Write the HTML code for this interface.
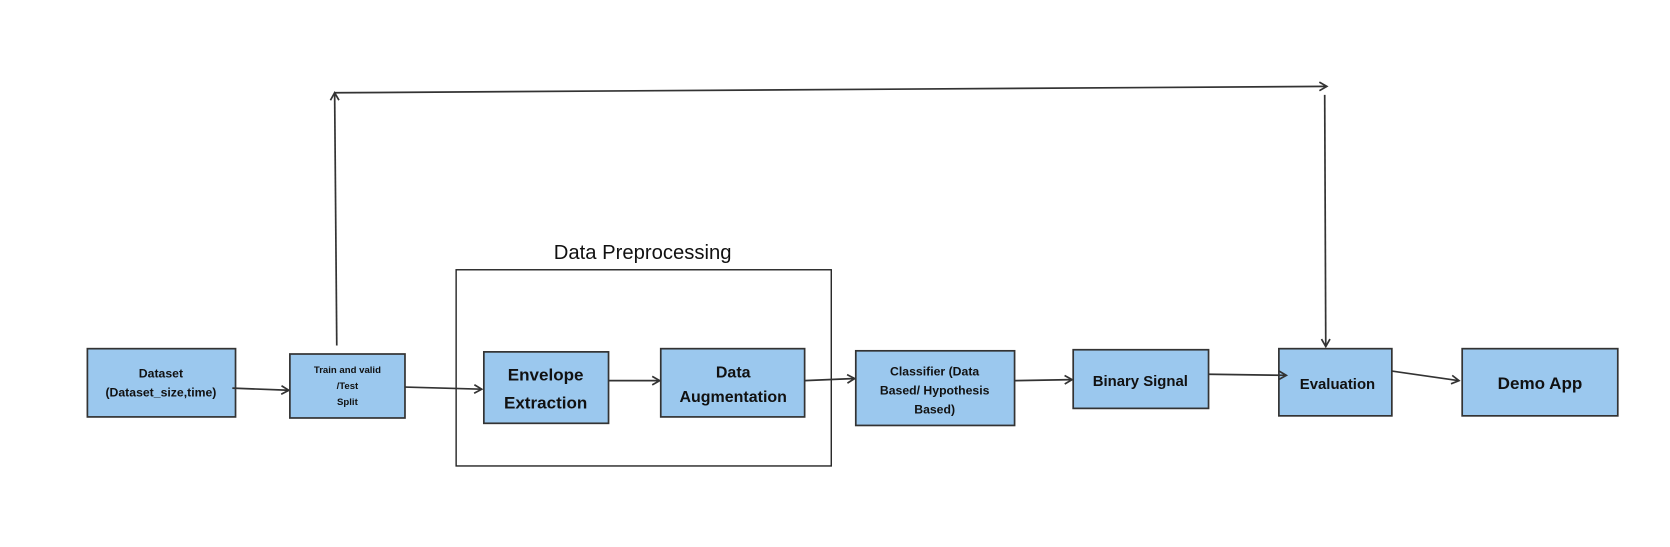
<!DOCTYPE html>
<html><head><meta charset="utf-8"><style>
html,body{margin:0;padding:0;background:#fff}
svg{display:block}
text{font-family:"Liberation Sans",sans-serif;font-weight:bold;fill:#111;text-anchor:middle}
.b{fill:#9bc8ee;stroke:#333;stroke-width:1.6}
.l{stroke:#333;stroke-width:1.6;fill:none}
</style></head><body>
<svg width="1670" height="547" viewBox="0 0 1567 513" preserveAspectRatio="none" xmlns="http://www.w3.org/2000/svg">
<defs><marker id="a" markerWidth="10" markerHeight="10" refX="8" refY="5" orient="auto" markerUnits="userSpaceOnUse"><path d="M1,1 L8,5 L1,9" fill="none" stroke="#333" stroke-width="1.6"/></marker></defs>
<rect x="428" y="253" width="352" height="184" fill="none" stroke="#222" stroke-width="1.3"/>
<text x="603" y="243" style="font-weight:normal;font-size:19px">Data Preprocessing</text>
<rect class="b" x="82" y="327" width="139" height="64"/>
<text x="151" y="354" font-size="11.5">Dataset</text><text x="151" y="372" font-size="11.5">(Dataset_size,time)</text>
<rect class="b" x="272" y="332" width="108" height="60"/>
<text x="326" y="350" font-size="9">Train and valid</text><text x="326" y="365" font-size="9">/Test</text><text x="326" y="380" font-size="9">Split</text>
<rect class="b" x="454" y="330" width="117" height="67"/>
<text x="512" y="357" font-size="16">Envelope</text><text x="512" y="383" font-size="16">Extraction</text>
<rect class="b" x="620" y="327" width="135" height="64"/>
<text x="688" y="354" font-size="15">Data</text><text x="688" y="377" font-size="15">Augmentation</text>
<rect class="b" x="803" y="329" width="149" height="70"/>
<text x="877" y="352" font-size="11.5">Classifier (Data</text><text x="877" y="370" font-size="11.5">Based/ Hypothesis</text><text x="877" y="388" font-size="11.5">Based)</text>
<rect class="b" x="1007" y="328" width="127" height="55"/>
<text x="1070" y="362" font-size="14">Binary Signal</text>
<rect class="b" x="1200" y="327" width="106" height="63"/>
<text x="1255" y="365" font-size="14">Evaluation</text>
<rect class="b" x="1372" y="327" width="146" height="63"/>
<text x="1445" y="365" font-size="16">Demo App</text>
<g class="l">
<path d="M218,364 L271,366" marker-end="url(#a)"/>
<path d="M380,363 L452,365" marker-end="url(#a)"/>
<path d="M571,357 L619,357" marker-end="url(#a)"/>
<path d="M755,357 L802,355" marker-end="url(#a)"/>
<path d="M952,357 L1006,356" marker-end="url(#a)"/>
<path d="M1134,351 L1207,352" marker-end="url(#a)"/>
<path d="M1306,348 L1369,357" marker-end="url(#a)"/>
<path d="M316,324 L314,87" marker-end="url(#a)"/>
<path d="M314,87 L1245,81" marker-end="url(#a)"/>
<path d="M1243,89 L1244,325" marker-end="url(#a)"/>
</g>
</svg>
</body></html>
